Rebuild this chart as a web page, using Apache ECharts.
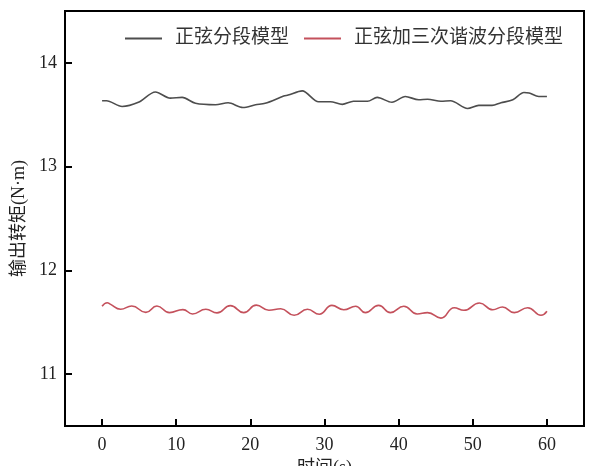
<!DOCTYPE html>
<html>
<head>
<meta charset="utf-8">
<script src="https://cdn.jsdelivr.net/npm/echarts@6/dist/echarts.min.js"></script>
<style>
  html, body { margin: 0; padding: 0; background: #fff; }
  #chart { width: 600px; height: 466px; }
</style>
</head>
<body>
<div id="chart"></div>
<script>
// 刻度
var xTicks = [0, 10, 20, 30, 40, 50, 60];
var yTicks = [11, 12, 13, 14];

// 正弦分段模型
var timeA = [0, 0.6, 2.7, 4.9, 7.2, 9.2, 10.8, 12.6, 15.3, 17, 19, 20.7, 22, 24.5, 25.1, 27, 29.2, 30.8, 32.4, 33.9, 35.8, 37.1, 39.1, 40.9, 42.7, 43.9, 45.7, 47, 49.3, 50.8, 52.6, 53.8, 55.4, 56.9, 57.6, 58.9, 60];
var torqueA = [13.635, 13.635, 13.58, 13.62, 13.72, 13.66, 13.667, 13.61, 13.596, 13.615, 13.57, 13.596, 13.61, 13.68, 13.69, 13.73, 13.625, 13.625, 13.6, 13.63, 13.63, 13.667, 13.62, 13.676, 13.644, 13.65, 13.63, 13.635, 13.56, 13.59, 13.59, 13.615, 13.644, 13.715, 13.71, 13.676, 13.676];

// 正弦加三次谐波分段模型
var timeB = [0, 0.7, 1.1, 2.5, 4, 5.9, 7.4, 9.1, 10.9, 12.2, 14, 15.5, 17.3, 19.1, 20.8, 22.5, 24.1, 25.9, 27.7, 29.3, 31, 32.6, 34.2, 35.5, 37.3, 38.9, 40.7, 42.5, 43.9, 45.7, 47.5, 48.8, 50.9, 52.7, 54, 55.6, 57.4, 59.2, 60];
var torqueB = [11.654, 11.688, 11.675, 11.625, 11.657, 11.595, 11.657, 11.593, 11.622, 11.58, 11.625, 11.59, 11.66, 11.593, 11.665, 11.615, 11.63, 11.567, 11.625, 11.577, 11.663, 11.62, 11.654, 11.593, 11.663, 11.593, 11.654, 11.58, 11.593, 11.54, 11.64, 11.615, 11.686, 11.62, 11.647, 11.593, 11.64, 11.567, 11.606];

function pairs(xs, ys) {
  return xs.map(function (x, i) { return [x, ys[i]]; });
}

var font = '"Liberation Serif", "Noto Sans CJK SC", serif';
var myChart = echarts.init(document.getElementById('chart'));

var option = {
  animation: false,
  backgroundColor: '#fff',
  legend: {
    left: 120,
    top: 24,
    icon: 'rect',
    itemWidth: 37,
    itemHeight: 2,
    itemGap: 15,
    textStyle: {
      fontFamily: font,
      fontSize: 19,
      color: '#333',
      padding: [0, 0, 0, 8]
    },
    data: ['正弦分段模型', '正弦加三次谐波分段模型']
  },
  grid: {
    left: 65,
    right: 16,
    top: 11,
    bottom: 40,
    outerBoundsMode: 'none',
    containLabel: false,
    show: true,
    borderColor: '#000',
    borderWidth: 2
  },
  xAxis: {
    type: 'value',
    min: -5,
    max: 65,
    name: '时间(s)',
    nameLocation: 'middle',
    nameGap: 31,
    nameTextStyle: { fontFamily: font, fontSize: 18, color: '#222' },
    axisLine: { show: true, onZero: false, lineStyle: { color: '#000', width: 2 } },
    axisTick: { show: true, inside: true, length: 7, customValues: xTicks, lineStyle: { color: '#000', width: 2 } },
    axisLabel: { customValues: xTicks, margin: 10, fontFamily: font, fontSize: 18, color: '#222' },
    splitLine: { show: false }
  },
  yAxis: {
    type: 'value',
    min: 10.5,
    max: 14.5,
    name: '输出转矩(N·m)',
    nameLocation: 'middle',
    nameGap: 33,
    nameTextStyle: { fontFamily: font, fontSize: 18, color: '#222' },
    axisLine: { show: true, onZero: false, lineStyle: { color: '#000', width: 2 } },
    axisTick: { show: true, inside: true, length: 7, customValues: yTicks, lineStyle: { color: '#000', width: 2 } },
    axisLabel: { customValues: yTicks, margin: 8, fontFamily: font, fontSize: 18, color: '#222' },
    splitLine: { show: false }
  },
  series: [
    {
      name: '正弦分段模型',
      type: 'line',
      symbol: 'none',
      smooth: 0.3,
      lineStyle: { width: 1.6, color: '#4d4d4d' },
      itemStyle: { color: '#4d4d4d' },
      data: pairs(timeA, torqueA)
    },
    {
      name: '正弦加三次谐波分段模型',
      type: 'line',
      symbol: 'none',
      smooth: 0.5,
      lineStyle: { width: 1.6, color: '#c4515c' },
      itemStyle: { color: '#c4515c' },
      data: pairs(timeB, torqueB)
    }
  ]
};

myChart.setOption(option);
</script>
</body>
</html>
